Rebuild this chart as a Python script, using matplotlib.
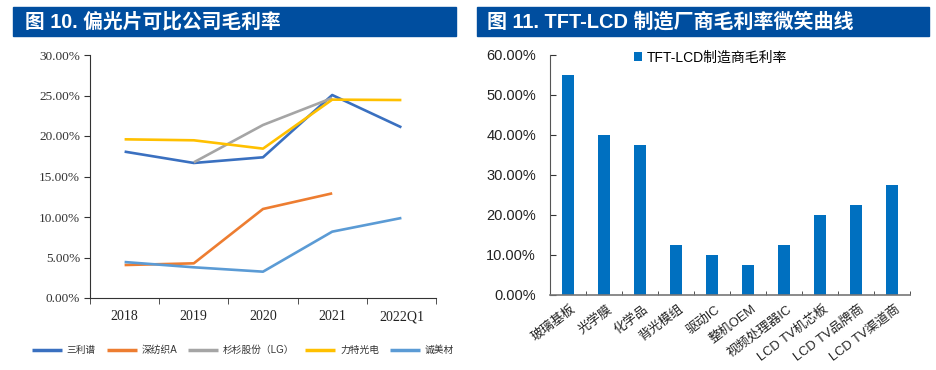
import matplotlib
matplotlib.use("Agg")
import matplotlib.pyplot as plt
from matplotlib.patches import Rectangle
import numpy as np

plt.rcParams['font.family'] = ['Liberation Sans', 'Noto Sans CJK SC', 'DejaVu Sans']

# left chart data
years = ['2018', '2019', '2020', '2021', '2022Q1']
sanlipu = [18.07, 16.67, 17.37, 25.06, 21.07]
shenfangzhi = [4.07, 4.28, 10.99, 12.92, None]
shanshan = [None, 16.75, 21.36, 24.69, None]
lite = [19.59, 19.47, 18.44, 24.49, 24.44]
chengmei = [4.44, 3.79, 3.25, 8.19, 9.88]
series_names = ['三利谱', '深纺织A', '杉杉股份（LG）', '力特光电', '诚美材']
series_colors = ['#3A70C0', '#ED7D31', '#A5A5A5', '#FFC000', '#5B9BD5']

# right chart data
segments = ['玻璃基板', '光学膜', '化学品', '背光模组', '驱动IC', '整机OEM',
            '视频处理器IC', 'LCD TV机芯板', 'LCD TV品牌商', 'LCD TV渠道商']
margins = [55.0, 40.0, 37.5, 12.5, 10.0, 7.5, 12.5, 20.0, 22.5, 27.5]

title_blue = '#004E9F'

fig = plt.figure(figsize=(9.36, 3.70), dpi=100)

# title bands
fig.patches.append(Rectangle((13/936, 1-36/370), (456-13)/936, 29/370,
                             transform=fig.transFigure, color=title_blue, zorder=0))
fig.patches.append(Rectangle((477/936, 1-36/370), (929-477)/936, 29/370,
                             transform=fig.transFigure, color=title_blue, zorder=0))
fig.text(25/936, 1-21.5/370, '图 10. 偏光片可比公司毛利率', color='white', fontsize=14.2,
         fontweight='bold', va='center', ha='left')
fig.text(487/936, 1-21.5/370, '图 11. TFT-LCD 制造厂商毛利率微笑曲线', color='white',
         fontsize=14.4, fontweight='bold', va='center', ha='left')

# ---- left chart
ax1 = fig.add_axes([90/936, 1-298/370, 346/936, 243/370])
x = np.arange(len(years))
all_series = [sanlipu, shenfangzhi, shanshan, lite, chengmei]
for vals, name, col in zip(all_series, series_names, series_colors):
    v = np.array([np.nan if a is None else a for a in vals], dtype=float) / 100
    ax1.plot(x, v, color=col, lw=1.9, label=name, solid_capstyle='butt')
ax1.set_xlim(-0.5, len(years) - 0.5)
ax1.set_ylim(0, 0.30)
ax1.set_yticks(np.arange(0, 0.301, 0.05))
ax1.set_yticklabels(['%.2f%%' % (t * 100) for t in np.arange(0, 0.301, 0.05)],
                    family=['Liberation Serif'], fontsize=9.5, color='#333333')
ax1.set_xticks(x)
ax1.set_xticklabels(years, family=['Liberation Serif'], fontsize=10, color='#222222')
ax1.set_xticks(np.arange(-0.5, len(years)), minor=True)
ax1.tick_params(axis='x', which='major', length=0, pad=9)
ax1.tick_params(axis='x', which='minor', length=4, direction='out', color='#333333')
ax1.tick_params(axis='y', length=4, direction='out', color='#333333', pad=3)
for s in ['top', 'right']:
    ax1.spines[s].set_visible(False)
ax1.spines['left'].set_color('#333333')
ax1.spines['bottom'].set_color('#333333')
leg1 = fig.legend(*ax1.get_legend_handles_labels(), loc='center', ncol=5,
                  bbox_to_anchor=(243/936, 1-350/370), frameon=False,
                  fontsize=7, handlelength=3.1, columnspacing=1.1, handletextpad=0.5)
for t in leg1.get_texts():
    t.set_color('#333333')
for h in leg1.get_lines():
    h.set_linewidth(2.5)

# ---- right chart
ax2 = fig.add_axes([550/936, 1-295/370, 360/936, 240/370])
xi = np.arange(len(segments))
ax2.bar(xi, np.array(margins) / 100, width=0.31, color='#0070C0',
        label='TFT-LCD制造商毛利率')
ax2.set_xlim(-0.5, len(segments) - 0.5)
ax2.set_ylim(0, 0.60)
yt = np.arange(0, 0.601, 0.10)
ax2.set_yticks(yt)
ax2.set_yticklabels(['%.2f%%' % (t * 100) for t in yt], fontsize=10.5, color='#222222')
ax2.set_xticks(xi + 0.08)
ax2.set_xticklabels(segments, rotation=37, ha='right', rotation_mode='anchor',
                    fontsize=9.3, color='#222222')
ax2.set_xticks(np.arange(-0.5, len(segments)), minor=True)
ax2.tick_params(axis='x', which='major', length=0, pad=6)
ax2.tick_params(axis='x', which='minor', length=3, direction='in', color='#333333')
ax2.tick_params(axis='y', length=4, direction='in', color='#333333', pad=10)
for s in ['top', 'right']:
    ax2.spines[s].set_visible(False)
ax2.spines['left'].set_color('#555555')
ax2.spines['bottom'].set_color('#777777')
ax2.spines['bottom'].set_linewidth(1.2)
ax2.legend(loc='upper center', bbox_to_anchor=(0.445, 1.07), frameon=False, fontsize=10,
           handlelength=0.6, handleheight=0.6, handletextpad=0.3)

fig.savefig('out.png', dpi=100)
